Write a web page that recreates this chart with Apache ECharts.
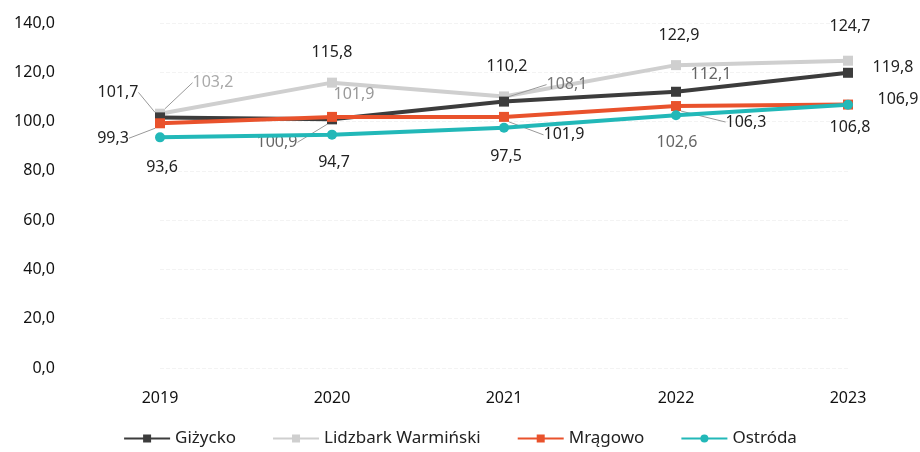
<!DOCTYPE html>
<html><head><meta charset="utf-8">
<script src="https://cdn.jsdelivr.net/npm/echarts@6/dist/echarts.min.js"></script>
<style>html,body{margin:0;padding:0;background:#fff}#c{width:920px;height:452px}</style>
</head><body><div id="c"></div>
<script>
const years = ['2019','2020','2021','2022','2023'];
const gizycko = [101.7, 100.9, 108.1, 112.1, 119.8];
const lidzbark = [103.2, 115.8, 110.2, 122.9, 124.7];
const mragowo = [99.3, 101.9, 101.9, 106.3, 106.9];
const ostroda = [93.6, 94.7, 97.5, 102.6, 106.8];
const seriesNames = ['Giżycko', 'Lidzbark Warmiński', 'Mrągowo', 'Ostróda'];

// label offsets (dx, dy) relative to each point, and leader-line flags
const labelOffsets = [
  [[-42,-25],[-55,23],[63,-17],[35,-17],[45,-5]],
  [[53,-31],[0,-30],[3,-30],[3,-30],[2,-34]],
  [[-47,15],[22,-22],[60,18],[70,16],[50,-5]],
  [[2,30],[2,28],[2,29],[1,27],[2,23]]
];
const leaders = [
  [1,1,1,0,0],
  [1,0,0,0,0],
  [1,0,1,1,0],
  [0,0,0,0,0]
];
const labelColors = [
  ['#222','#666','#777','#666','#222'],
  ['#aaa','#222','#222','#222','#222'],
  ['#222','#999','#222','#222','#222'],
  ['#222','#222','#222','#666','#222']
];

const colors = ['#3c3c3c', '#cfcfcf', '#e9522c', '#22b8b8'];
const symbols = ['rect', 'rect', 'rect', 'circle'];
const values = [gizycko, lidzbark, mragowo, ostroda];
const fmt = v => v.toFixed(1).replace('.', ',');
const FONT = '"Noto Sans", Lato, sans-serif';

const chart = echarts.init(document.getElementById('c'));
chart.setOption({
  animation: false,
  color: colors,
  textStyle: {fontFamily: FONT},
  grid: {left: 160, right: 72, top: 23, bottom: 84},
  legend: {
    bottom: 0, left: 'center', itemWidth: 46, itemHeight: 10, itemGap: 36,
    textStyle: {fontSize: 17, color: '#222', fontFamily: FONT},
    data: seriesNames
  },
  xAxis: {
    type: 'category', data: years, boundaryGap: false,
    axisLine: {show: false}, axisTick: {show: false},
    axisLabel: {margin: 22, fontSize: 16, color: '#111'}
  },
  yAxis: {
    type: 'value', min: 0, max: 140, interval: 20,
    axisLabel: {margin: 105, fontSize: 16, color: '#111', formatter: v => fmt(v)},
    splitLine: {lineStyle: {color: '#f3f3f3', type: 'dashed'}},
    axisLine: {show: false}, axisTick: {show: false}
  },
  series: values.map((vals, si) => ({
    name: seriesNames[si], type: 'line', data: vals.map((v, di) => ({
      value: v,
      label: {color: labelColors[si][di]},
      labelLine: {show: !!leaders[si][di]}
    })),
    symbol: symbols[si], symbolSize: 10, showSymbol: true,
    lineStyle: {width: 4, color: colors[si]},
    itemStyle: {color: colors[si]},
    z: si === 1 ? 1 : 2 + si,
    label: {
      show: true, position: 'inside', fontSize: 16,
      formatter: p => fmt(p.value)
    },
    labelLine: {show: true, lineStyle: {color: '#999', width: 1}},
    labelLayout: p => ({dx: labelOffsets[si][p.dataIndex][0], dy: labelOffsets[si][p.dataIndex][1]})
  }))
});
</script></body></html>
